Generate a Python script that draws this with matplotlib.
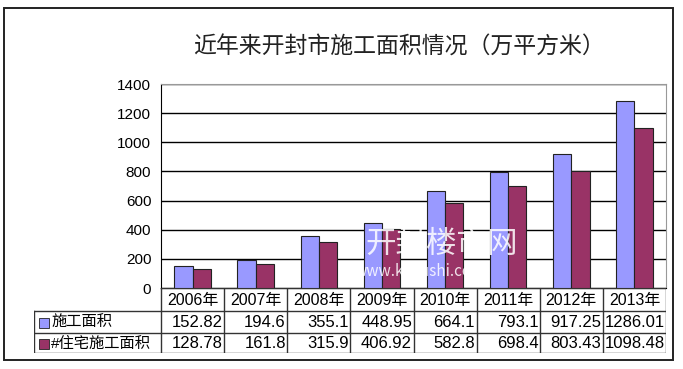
import numpy as np
import matplotlib
matplotlib.use("Agg")
import matplotlib.pyplot as plt
from matplotlib.patches import Rectangle

plt.rcParams['font.family'] = ['Noto Sans CJK SC', 'DejaVu Sans']

years = ['2006年', '2007年', '2008年', '2009年', '2010年', '2011年', '2012年', '2013年']
total = [152.82, 194.6, 355.1, 448.95, 664.1, 793.1, 917.25, 1286.01]
housing = [128.78, 161.8, 315.9, 406.92, 582.8, 698.4, 803.43, 1098.48]
series_names = ['施工面积', '#住宅施工面积']
colors = ['#9999FF', '#993366']

W, H = 683, 369
fig = plt.figure(figsize=(W / 100, H / 100), dpi=100)

def fx(px):
    return px / W

def fy(py):
    return 1 - py / H

# outer frame
fig.patches.append(Rectangle((fx(4), fy(360)), fx(669), (352) / H, transform=fig.transFigure,
                             fill=False, edgecolor='#222222', lw=1.4))

fig.text(fx(399), fy(47), '近年来开封市施工面积情况（万平方米）', ha='center', va='center',
         fontsize=16.5, color='#222222')

# main plot area
left, right, top, bottom = 161, 666, 84, 288
ax = fig.add_axes([fx(left), fy(bottom), (right - left) / W, (bottom - top) / H])
x = np.arange(len(years))
bw = 0.29
ax.bar(x - bw / 2, total, bw, color=colors[0], edgecolor='#222222', lw=0.8, zorder=3)
ax.bar(x + bw / 2, housing, bw, color=colors[1], edgecolor='#222222', lw=0.8, zorder=3)
ax.set_xlim(-0.5, len(years) - 0.5)
ax.set_ylim(0, 1400)
ax.set_yticks(range(0, 1401, 200))
ax.yaxis.grid(True, color='black', lw=1, zorder=0)
ax.set_xticks([])
ax.tick_params(axis='y', length=0, labelsize=11, pad=7)
for lab in ax.get_yticklabels():
    lab.set_family('Liberation Sans')
ax.spines['left'].set_color('black')
ax.spines['bottom'].set_color('black')
ax.spines['right'].set_color('#999999')
ax.spines['top'].set_color('#999999')

# watermark
ax.text(3.95, 300, '开封楼市网', ha='center', va='center', fontsize=22, color='white',
        alpha=0.85, zorder=5)
ax.text(3.6, 110, 'www.kflsushi.com', ha='center', va='center', fontsize=11, color='white',
        alpha=0.85, zorder=5)

# data table
tleft, tbot = 34, 353
tab = fig.add_axes([fx(tleft), fy(tbot), (right - tleft) / W, (tbot - bottom) / H])
tab.set_xlim(tleft, right)
tab.set_ylim(tbot, bottom)
tab.axis('off')
rows = [bottom, 311, 333, tbot]
colw = (right - left) / len(years)
edges = [left + i * colw for i in range(len(years) + 1)]
lc = '#333333'
for yy in rows[1:]:
    tab.plot([tleft, right], [yy, yy], color=lc, lw=1)
tab.plot([left, right], [rows[0], rows[0]], color=lc, lw=1)
for e in edges:
    tab.plot([e, e], [rows[0], tbot], color=lc, lw=1)
tab.plot([tleft, tleft], [rows[1], tbot], color=lc, lw=1)

for i, yr in enumerate(years):
    cx = (edges[i] + edges[i + 1]) / 2
    tab.text(cx, (rows[0] + rows[1]) / 2 + 0.5, yr, ha='center', va='center', fontsize=11.5,
             family=['Liberation Sans', 'Noto Sans CJK SC'])
for r, vals in enumerate([total, housing]):
    cy = (rows[r + 1] + rows[r + 2]) / 2 + 0.5
    for i, v in enumerate(vals):
        tab.text(edges[i + 1] - 1.5, cy, f'{v:g}', ha='right', va='center', fontsize=12,
                 family='Liberation Sans', clip_on=False)
    tab.add_patch(Rectangle((tleft + 5, cy - 5), 10, 10, facecolor=colors[r], edgecolor='#222222', lw=0.6))
    tab.text(tleft + 17, cy, series_names[r], ha='left', va='center', fontsize=11,
             family=['Liberation Sans', 'Noto Sans CJK SC'])

fig.savefig('out.png', dpi=100)
